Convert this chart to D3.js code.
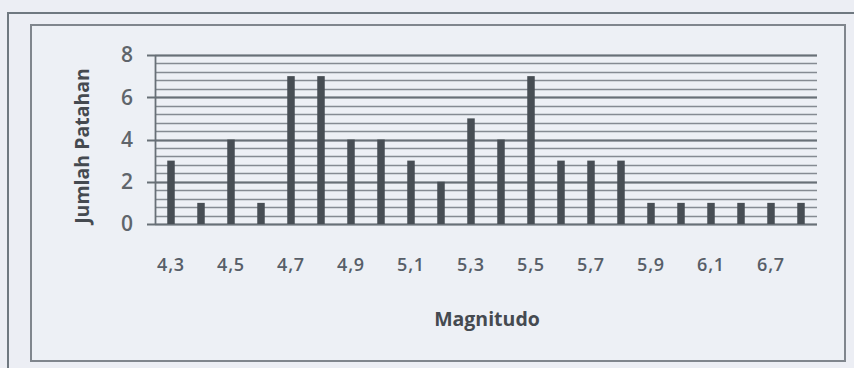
<!DOCTYPE html>
<html><head><meta charset="utf-8">
<script src="https://cdn.jsdelivr.net/npm/d3@7"></script>
<style>
html,body{margin:0;padding:0;background:#eceef4;}
svg{display:block;font-family:"Open Sans",sans-serif;}
</style></head>
<body><svg id="c" width="854" height="368"></svg>
<script>
const categories = ["4,3","4,4","4,5","4,6","4,7","4,8","4,9","5,0","5,1","5,2","5,3","5,4","5,5","5,6","5,7","5,8","5,9","6,0","6,1","6,4","6,7","6,9"];
const values = [3,1,4,1,7,7,4,4,3,2,5,4,7,3,3,3,1,1,1,1,1,1];
const shownLabels = ["4,3","4,5","4,7","4,9","5,1","5,3","5,5","5,7","5,9","6,1","6,7"];
const yTicks = [0,2,4,6,8];
const yMinorStep = 0.4;
const xTitle = "Magnitudo";
const yTitle = "Jumlah Patahan";

const svg = d3.select("#c");
// frames
svg.append("rect").attr("x",0).attr("y",0).attr("width",854).attr("height",368).attr("fill","#eceef4");
svg.append("path").attr("d","M8,368 V13 H854").attr("fill","none").attr("stroke","#6f7880").attr("stroke-width",2);
svg.append("rect").attr("x",31).attr("y",25).attr("width",814).attr("height",336)
  .attr("fill","#edf0f5").attr("stroke","#80868d").attr("stroke-width",2);

const x = d3.scaleBand().domain(categories).range([156,816]).paddingInner(0.75).paddingOuter(0.375);
const y = d3.scaleLinear().domain([0,8]).range([224,55]);

// minor gridlines
const minor = d3.range(0, 8 + 1e-9, yMinorStep);
svg.append("g").selectAll("line").data(minor).join("line")
  .attr("x1",155).attr("x2",817)
  .attr("y1",d=>Math.round(y(d))+0.5).attr("y2",d=>Math.round(y(d))+0.5)
  .attr("stroke","#858b92").attr("stroke-width",1.6);
// major gridlines extending as ticks
svg.append("g").selectAll("line").data(yTicks).join("line")
  .attr("x1",147).attr("x2",817)
  .attr("y1",d=>Math.round(y(d))+0.5).attr("y2",d=>Math.round(y(d))+0.5)
  .attr("stroke","#687077").attr("stroke-width",1.8);
// y axis line
svg.append("line").attr("x1",155.5).attr("x2",155.5).attr("y1",y(8)).attr("y2",y(0))
  .attr("stroke","#687077").attr("stroke-width",1.8);

// bars
svg.append("g").selectAll("rect").data(values).join("rect")
  .attr("x",(d,i)=>x(categories[i])).attr("width",x.bandwidth())
  .attr("y",d=>y(d)).attr("height",d=>y(0)-y(d))
  .attr("fill","#474e54");

// y labels
svg.append("g").selectAll("text").data(yTicks).join("text")
  .attr("x",133).attr("y",d=>y(d)).attr("dy","0.35em").attr("text-anchor","end")
  .attr("font-size",21).attr("font-weight",600).attr("fill","#5f656b").text(d=>d);

// x labels
svg.append("g").selectAll("text").data(shownLabels).join("text")
  .attr("x",d=>x(d)+x.bandwidth()/2).attr("y",265).attr("dy","0.35em").attr("text-anchor","middle")
  .attr("font-size",18).attr("font-weight",600).attr("letter-spacing",0.8).attr("fill","#575e68").text(d=>d);

// titles
svg.append("text").attr("x",487).attr("y",319).attr("dy","0.35em").attr("text-anchor","middle")
  .attr("font-size",19.5).attr("font-weight","bold").attr("fill","#454a50").text(xTitle);
svg.append("text").attr("transform","translate(82,146) rotate(-90)").attr("dy","0.35em").attr("text-anchor","middle")
  .attr("font-size",19.5).attr("font-weight","bold").attr("fill","#454a50").text(yTitle);
</script></body></html>
